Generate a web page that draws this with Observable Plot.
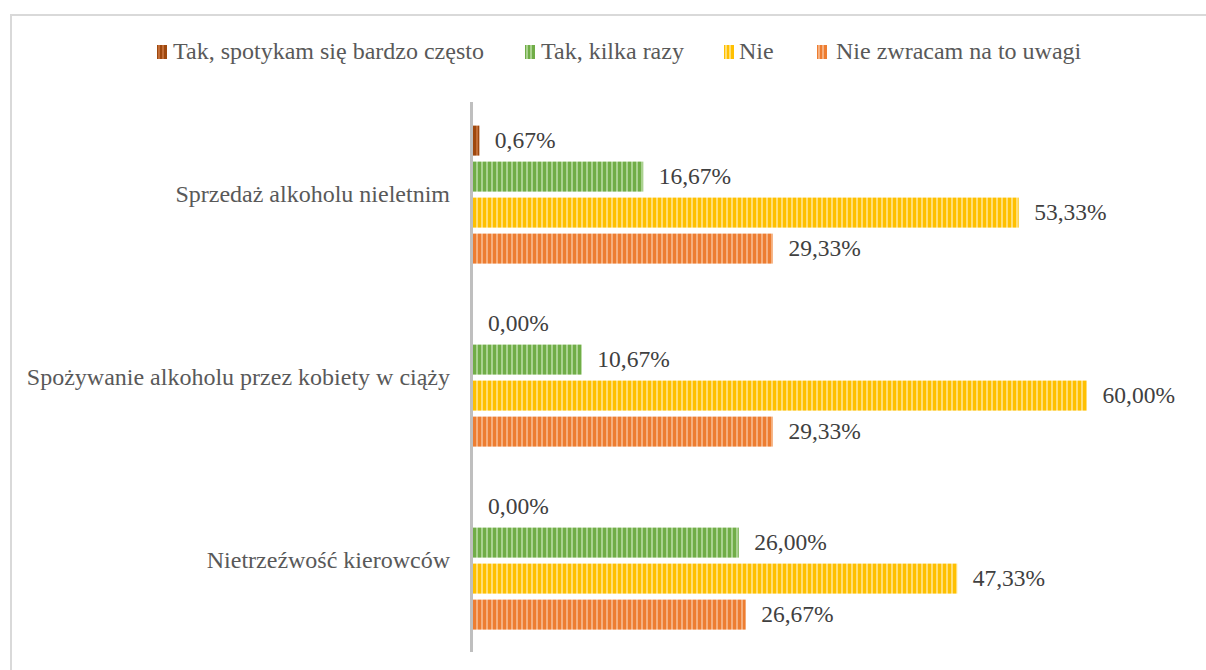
<!DOCTYPE html>
<html>
<head>
<meta charset="utf-8">
<script src="https://cdn.jsdelivr.net/npm/d3@7"></script>
<script src="https://cdn.jsdelivr.net/npm/@observablehq/plot@0.6"></script>
<style>
  html, body { margin: 0; padding: 0; background: #fff; width: 1206px; height: 670px; overflow: hidden; }
  #frame { position: absolute; left: 10px; top: 14px; width: 1240px; height: 720px; border: 2px solid #d9d9d9; box-sizing: border-box; }
  #legend { position: absolute; left: 0; top: 34px; width: 1206px; height: 36px;
            font-family: 'Liberation Serif', serif; font-size: 24px; color: #595959; }
  .sw { position: absolute; top: 11px; }
  .lt { position: absolute; top: 3px; white-space: nowrap; line-height: 28px; }
  #chart { position: absolute; left: 0; top: 80px; }
</style>
</head>
<body>
<div id="frame"></div>
<div id="legend"></div>
<div id="chart"></div>
<script>
const categories = ["Sprzedaż alkoholu nieletnim", "Spożywanie alkoholu przez kobiety w ciąży", "Nietrzeźwość kierowców"];
const series = ["Tak, spotykam się bardzo często", "Tak, kilka razy", "Nie", "Nie zwracam na to uwagi"];
const valuesBardzoCzesto = [0.67, 0.00, 0.00];
const valuesKilkaRazy = [16.67, 10.67, 26.00];
const valuesNie = [53.33, 60.00, 47.33];
const valuesNieZwracam = [29.33, 29.33, 26.67];
const baseColors = ["#9E480E", "#70AD47", "#FFC000", "#ED7D31"];
const lightColors = ["#C8743E", "#B4D89C", "#FFE38A", "#F7B78C"];

const seriesValues = [valuesBardzoCzesto, valuesKilkaRazy, valuesNie, valuesNieZwracam];
const data = [];
categories.forEach((c, i) => series.forEach((s, j) => data.push({cat: c, series: s, idx: j, value: seriesValues[j][i]})));

const fmt = v => v.toFixed(2).replace(".", ",") + "%";

const plot = Plot.plot({
  width: 1206,
  height: 590,
  marginLeft: 472.5,
  marginRight: 119,
  marginTop: 22.4,
  marginBottom: 18.6,
  style: {fontFamily: "'Liberation Serif', serif", background: "transparent"},
  x: {domain: [0, 60], axis: null},
  y: {domain: series, axis: null, paddingInner: 0.18, paddingOuter: 0.09},
  fy: {domain: categories, paddingInner: 0.2, paddingOuter: 0.1, axis: null},
  marks: [
    ...series.map((s, j) => Plot.barX(data.filter(d => d.idx === j), {
      x: "value", y: "series", fy: "cat", fill: `url(#pat${j})`
    })),
    Plot.ruleX([0], {stroke: "#bfbfbf", strokeWidth: 3, dx: -1.5, insetTop: -19, insetBottom: -19}),
    Plot.text(data, {
      x: "value", y: "series", fy: "cat", text: d => fmt(d.value),
      textAnchor: "start", dx: 15, dy: -1, fontSize: 23.5, fill: "#404040"
    }),
    Plot.axisFy({anchor: "left", label: null, tickSize: 0, tickPadding: 23, fontSize: 24, fill: "#595959"})
  ]
});

// patterns for the striped bars
const svg = d3.select(plot.tagName.toLowerCase() === "svg" ? plot : plot.querySelector("svg"));
const defs = svg.insert("defs", ":first-child");
baseColors.forEach((c, j) => {
  const p = defs.append("pattern").attr("id", `pat${j}`).attr("patternUnits", "userSpaceOnUse")
    .attr("width", 5).attr("height", 10);
  p.append("rect").attr("width", 5).attr("height", 10).attr("fill", c);
  p.append("rect").attr("x", 1).attr("width", 2).attr("height", 10).attr("fill", lightColors[j]).attr("opacity", 0.85);
});
document.getElementById("chart").appendChild(plot);

// legend (item layout positions)
const swX = [157, 525, 724, 817];
const txtX = [173, 541, 739, 836];
const legend = d3.select("#legend");
series.forEach((s, j) => {
  const sw = legend.append("svg").attr("class", "sw").style("left", swX[j] + "px").attr("width", 10).attr("height", 14);
  sw.append("rect").attr("width", 10).attr("height", 14).attr("fill", baseColors[j]);
  [1, 5].forEach(x => sw.append("rect").attr("x", x).attr("width", 2).attr("height", 14).attr("fill", lightColors[j]).attr("opacity", 0.85));
  legend.append("span").attr("class", "lt").style("left", txtX[j] + "px").text(s);
});
</script>
</body>
</html>
